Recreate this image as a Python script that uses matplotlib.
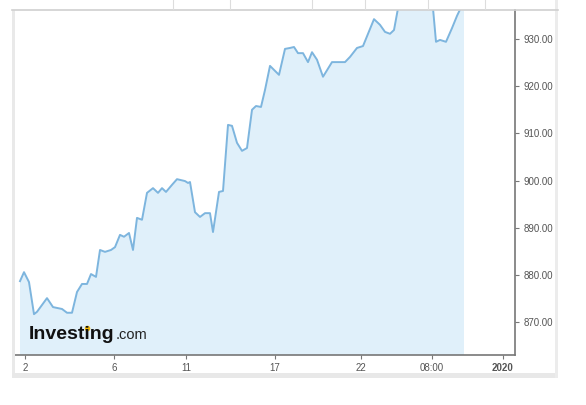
import matplotlib.pyplot as plt
from matplotlib.patches import Rectangle
from matplotlib.lines import Line2D

# sample positions (chart time index) and closing values
t = [20, 24, 29, 34, 37, 47, 53, 62, 67, 72, 77, 82, 87, 91, 96, 100, 105, 111,
     115, 120, 124, 129, 133, 137, 142, 147, 153, 158, 162, 166, 172, 177, 185,
     188, 190, 195, 200, 205, 210, 213, 219, 223, 228, 232, 237, 242, 247, 252,
     256, 261, 265, 270, 279, 285, 290, 294, 298, 303, 308, 312, 317, 323, 332,
     338, 345, 350, 357, 363, 374, 380, 385, 390, 394, 398, 405, 415, 425, 433,
     436, 440, 446, 452, 457, 464]
price = [878.7, 880.6, 878.5, 871.7, 872.2, 875.1, 873.2, 872.8, 872.0, 872.0,
         876.4, 878.1, 878.1, 880.2, 879.6, 885.3, 884.9, 885.3, 885.9, 888.5,
         888.1, 888.9, 885.3, 892.1, 891.7, 897.4, 898.4, 897.4, 898.4, 897.6,
         899.1, 900.3, 899.9, 899.5, 899.7, 893.3, 892.3, 893.1, 893.1, 889.1,
         897.6, 897.8, 911.8, 911.6, 908.0, 906.3, 906.9, 915.0, 915.8, 915.6,
         919.2, 924.3, 922.4, 927.9, 928.1, 928.3, 927.0, 927.0, 925.1, 927.2,
         925.6, 922.0, 925.1, 925.1, 925.1, 926.2, 928.1, 928.5, 934.2, 933.0,
         931.5, 931.1, 931.9, 936.5, 938.5, 939.0, 938.5, 936.5, 929.4, 929.8,
         929.4, 932.3, 934.9, 938.0]

x_tick_pos = [25, 114, 186, 275, 361, 432, 503]
x_tick_labels = ["2", "6", "11", "17", "22", "08:00", "2020"]
y_ticks = [870, 880, 890, 900, 910, 920, 930]

W, H = 586, 405
fig = plt.figure(figsize=(W / 100, H / 100), dpi=100)
fig.patch.set_facecolor("white")

# widget frame bits
fig.add_artist(Rectangle((12 / W, 1 - 377 / H), 3 / W, 367 / H, transform=fig.transFigure,
                         facecolor="#e9e9e9", edgecolor="none"))
fig.add_artist(Rectangle((12 / W, 1 - 378 / H), 546 / W, 5 / H, transform=fig.transFigure,
                         facecolor="#e8e8e8", edgecolor="none"))
fig.add_artist(Rectangle((555 / W, 1 - 378 / H), 3 / W, 378 / H, transform=fig.transFigure,
                         facecolor="#ececec", edgecolor="none"))
fig.add_artist(Line2D([12 / W, 558 / W], [1 - 9.5 / H, 1 - 9.5 / H], transform=fig.transFigure,
                      color="#d0d0d0", lw=1.2))
for xp in [173, 230, 312, 365, 428, 485]:
    fig.add_artist(Line2D([xp / W, xp / W], [1 - 9 / H, 1], transform=fig.transFigure,
                          color="#dddddd", lw=0.8))

ax = fig.add_axes([15 / W, 1 - 355 / H, 500 / W, 345 / H])
ax.fill_between(t, price, 800, color="#e0f0fa", lw=0)
ax.plot(t, price, color="#7db5de", lw=1.4)
ax.set_xlim(15, 515)
ax.set_ylim(863.05, 936.14)

ax.yaxis.tick_right()
ax.set_yticks(y_ticks)
ax.set_yticklabels([f"{v:.2f}" for v in y_ticks])
ax.set_xticks(x_tick_pos)
ax.set_xticklabels(x_tick_labels)
ax.tick_params(axis="both", colors="#777777", labelcolor="#555555", labelsize=7,
               length=3, width=0.8, pad=3)
ax.xaxis.get_ticklabels()[-1].set_fontweight("bold")

for s in ["top", "left"]:
    ax.spines[s].set_visible(False)
for s in ["bottom", "right"]:
    ax.spines[s].set_color("#777777")
    ax.spines[s].set_linewidth(1.2)

for lab in ax.get_xticklabels() + ax.get_yticklabels():
    lab.set_family(["Liberation Sans", "DejaVu Sans"])

# watermark
logo = fig.text(29 / W, 1 - 339 / H, "Investing", fontsize=14, fontweight="bold",
                family="Liberation Sans", color="#111111", va="baseline")
fig.canvas.draw()
bb = logo.get_window_extent()
fig.text(bb.x1 / W + 0.5 / W, 1 - 339 / H, ".com", fontsize=10.5,
         family="Liberation Sans", color="#222222", va="baseline")
# yellow dot over the second "i"
fig.add_artist(Line2D([bb.x0 / W + 57.5 / W], [1 - 328 / H], transform=fig.transFigure,
                      marker="o", markersize=3, color="#f2b705", lw=0))

fig.savefig("out.png", dpi=100)
